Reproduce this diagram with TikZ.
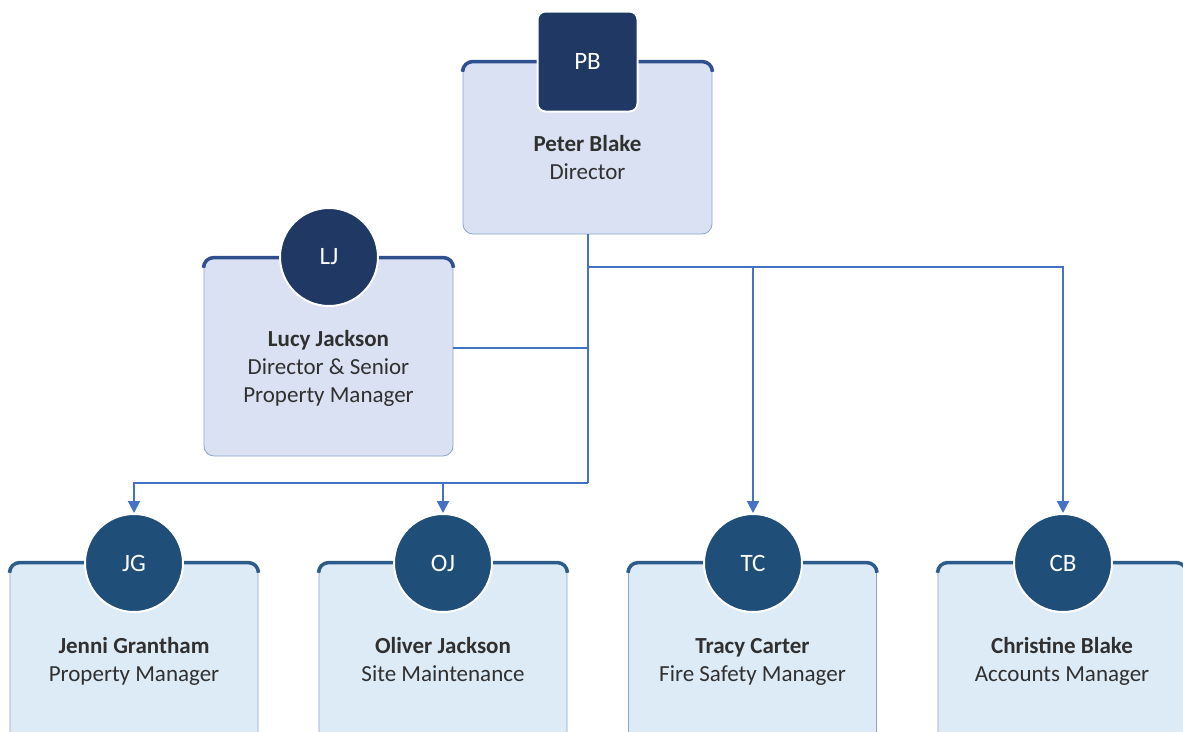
\documentclass[tikz,border=0pt]{standalone}
\usepackage{fontspec}
\setmainfont{Carlito}
\usetikzlibrary{arrows.meta}

\definecolor{navy}{HTML}{1F3864}
\definecolor{steel}{HTML}{1F4E79}
\definecolor{upperfill}{HTML}{D9E1F2}
\definecolor{lowerfill}{HTML}{DDEBF7}
\definecolor{boxline}{HTML}{8EA4CC}
\definecolor{uppertop}{HTML}{2F4F8F}
\definecolor{lowertop}{HTML}{2E5C8A}
\definecolor{linkblue}{HTML}{4472C4}
\definecolor{darktext}{HTML}{303030}

\tikzset{
  upperbox/.style={draw=boxline,fill=upperfill,rounded corners=10pt,line width=0.8pt,minimum width=249pt,inner sep=0pt},
  lowerbox/.style={draw=boxline,fill=lowerfill,rounded corners=10pt,line width=0.8pt,minimum width=248pt,minimum height=197pt,inner sep=0pt},
  topedge/.style={line width=3.5pt,rounded corners=10pt},
  badge/.style={circle,draw=white,line width=2pt,minimum size=98pt,inner sep=0pt,text=white,font=\fontsize{25}{30}\selectfont},
  person/.style={align=center,text=darktext,font=\fontsize{23}{28}\selectfont},
  link/.style={draw=linkblue,line width=2pt},
  tolink/.style={link,-{Triangle[length=12pt,width=12pt]}}
}

\begin{document}
\begin{tikzpicture}[x=1pt,y=-1pt]
\path[use as bounding box] (0,0) rectangle (1183,731);
\clip (0,0) rectangle (1183,731);

% The boxes
\node (pbbox) at (587.5,148) [upperbox,minimum height=172pt] {};
\node (ljbox) at (328.5,357) [upperbox,minimum height=198pt] {};
\node (jgbox) at (134,661.5) [lowerbox] {};
\node (ojbox) at (443,661.5) [lowerbox] {};
\node (tcbox) at (752.5,661.5) [lowerbox] {};
\node (cbbox) at (1062,661.5) [lowerbox] {};

% dark top edges
\foreach \b/\c in {pbbox/uppertop,ljbox/uppertop,jgbox/lowertop,ojbox/lowertop,tcbox/lowertop,cbbox/lowertop}
  \draw[topedge,draw=\c] ([yshift=-8pt]\b.north west) -- (\b.north west) -- (\b.north east) -- ([yshift=-8pt]\b.north east);

% initials
\node (pb) at (587.5,61.5) [badge,rectangle,rounded corners=8pt,fill=navy,minimum size=100pt] {PB};
\node (lj) at (329,257) [badge,fill=navy] {LJ};
\node (jg) at (134,563) [badge,fill=steel] {JG};
\node (oj) at (443,563) [badge,fill=steel] {OJ};
\node (tc) at (753,563) [badge,fill=steel] {TC};
\node (cb) at (1063,563) [badge,fill=steel] {CB};

% names and roles
\node (pbtext) at (587.5,160) [person] {\strut\textbf{Peter Blake}\\Director\strut};
\node (ljtext) at (328.5,368.5) [person] {\strut\textbf{Lucy Jackson}\\Director \& Senior\\Property Manager\strut};
\node (jgtext) at (134,661.5) [person] {\strut\textbf{Jenni Grantham}\\Property Manager\strut};
\node (ojtext) at (443,661.5) [person] {\strut\textbf{Oliver Jackson}\\Site Maintenance\strut};
\node (tctext) at (752.5,661.5) [person] {\strut\textbf{Tracy Carter}\\Fire Safety Manager\strut};
\node (cbtext) at (1062,661.5) [person] {\strut\textbf{Christine Blake}\\Accounts Manager\strut};

% reporting lines
\path (pbbox.south) ++(0,33) coordinate(fork);
\path (pbbox.south) ++(0,249) coordinate(split);
\draw[link] (pbbox.south) -- (split);
\draw[link] ([yshift=9pt]ljbox.east) -- ([yshift=9pt]ljbox.east -| split);
\draw[tolink] (split) -| (jg.north);
\draw[tolink] (split) -| (oj.north);
\draw[tolink] (fork) -| (tc.north);
\draw[tolink] (fork) -| (cb.north);

\end{tikzpicture}
\end{document}
